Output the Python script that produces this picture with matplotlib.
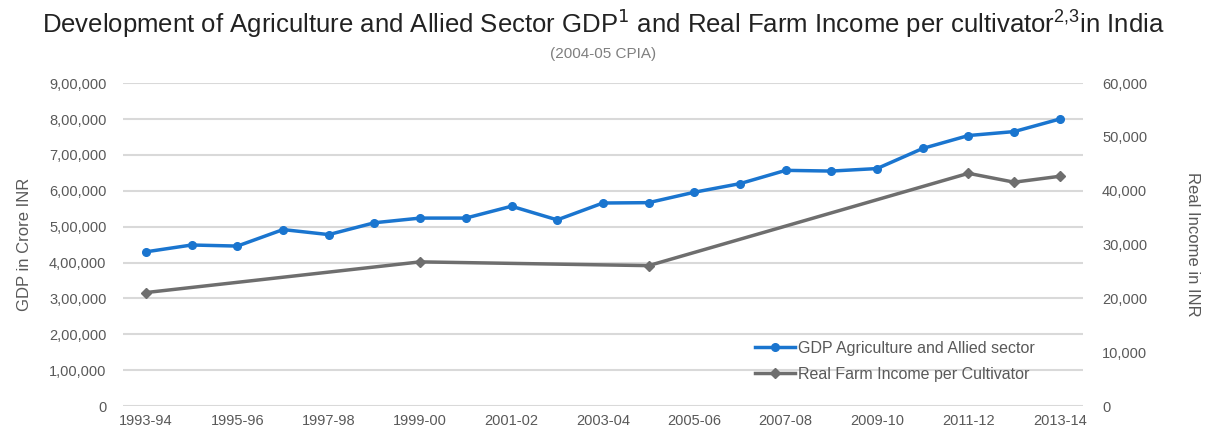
import matplotlib.pyplot as plt
from matplotlib.ticker import FuncFormatter

plt.rcParams['font.family'] = ['Liberation Sans', 'DejaVu Sans']
plt.rcParams['mathtext.default'] = 'regular'

# Data
years = ['1993-94', '1994-95', '1995-96', '1996-97', '1997-98', '1998-99',
         '1999-00', '2000-01', '2001-02', '2002-03', '2003-04', '2004-05',
         '2005-06', '2006-07', '2007-08', '2008-09', '2009-10', '2010-11',
         '2011-12', '2012-13', '2013-14']
gdp = [430000, 449000, 446000, 492000, 478000, 511000, 524000, 524000,
       557000, 519000, 566000, 567000, 596000, 620000, 657000, 655000,
       662000, 718000, 754000, 765000, 800000]
income_years = ['1993-94', '1999-00', '2004-05', '2011-12', '2012-13', '2013-14']
income = [21100, 26800, 26100, 43250, 41600, 42700]

blue = '#1a75cf'
grey = '#6e6e6e'
text_col = '#595959'


def indian_fmt(v, pos=None):
    v = int(round(v))
    s = str(v)
    if len(s) <= 3:
        return s
    last3 = s[-3:]
    rest = s[:-3]
    groups = []
    while len(rest) > 2:
        groups.insert(0, rest[-2:])
        rest = rest[:-2]
    if rest:
        groups.insert(0, rest)
    return ','.join(groups) + ',' + last3


fig = plt.figure(figsize=(12.07, 4.33), dpi=100)
ax = fig.add_axes([0.102, 0.062, 0.795, 0.746])
ax2 = ax.twinx()

x = list(range(len(years)))
xi = [years.index(y) for y in income_years]

ax.plot(x, gdp, color=blue, lw=2.5, marker='o', ms=5.5,
        label='GDP Agriculture and Allied sector', zorder=3)
ax2.plot(xi, income, color=grey, lw=2.5, marker='D', ms=5,
         label='Real Farm Income per Cultivator', zorder=3)

ax.set_xlim(-0.5, len(years) - 0.5)
ax.set_ylim(0, 900000)
ax2.set_ylim(0, 60000)
ax.set_yticks(range(0, 900001, 100000))
ax2.set_yticks(range(0, 60001, 10000))
ax.yaxis.set_major_formatter(FuncFormatter(indian_fmt))
ax2.yaxis.set_major_formatter(FuncFormatter(indian_fmt))
ax.set_xticks(x[::2])
ax.set_xticklabels(years[::2])

ax.grid(axis='y', color='#d9d9d9', lw=1.5)
ax.set_axisbelow(True)
for a in (ax, ax2):
    for sp in a.spines.values():
        sp.set_visible(False)
    a.tick_params(length=0, colors=text_col, labelsize=10.5)
ax.tick_params(axis='y', pad=12)
ax2.tick_params(axis='y', pad=14)
ax.tick_params(axis='x', pad=6)

ax.set_ylabel('GDP in Crore INR', color=text_col, fontsize=12, labelpad=12)
ax2.set_ylabel('Real Income in INR', color=text_col, fontsize=12,
               rotation=270, labelpad=38)

h1, l1 = ax.get_legend_handles_labels()
h2, l2 = ax2.get_legend_handles_labels()
leg = ax2.legend(h1 + h2, l1 + l2, loc='lower right', bbox_to_anchor=(0.965, 0.03),
                 frameon=False, fontsize=11.5, handlelength=2.5,
                 handletextpad=0.2, labelspacing=0.7)
for t in leg.get_texts():
    t.set_color(text_col)

fig.text(0.5, 0.945, 'Development of Agriculture and Allied Sector GDP$^{\\mathsf{1}}$ and '
         'Real Farm Income per cultivator$^{2{,}3}$in India',
         ha='center', va='center', fontsize=18.5, color='#222222')
fig.text(0.5, 0.875, '(2004-05 CPIA)', ha='center', va='center',
         fontsize=11, color='#7f7f7f')

fig.savefig('out.png', dpi=100)
